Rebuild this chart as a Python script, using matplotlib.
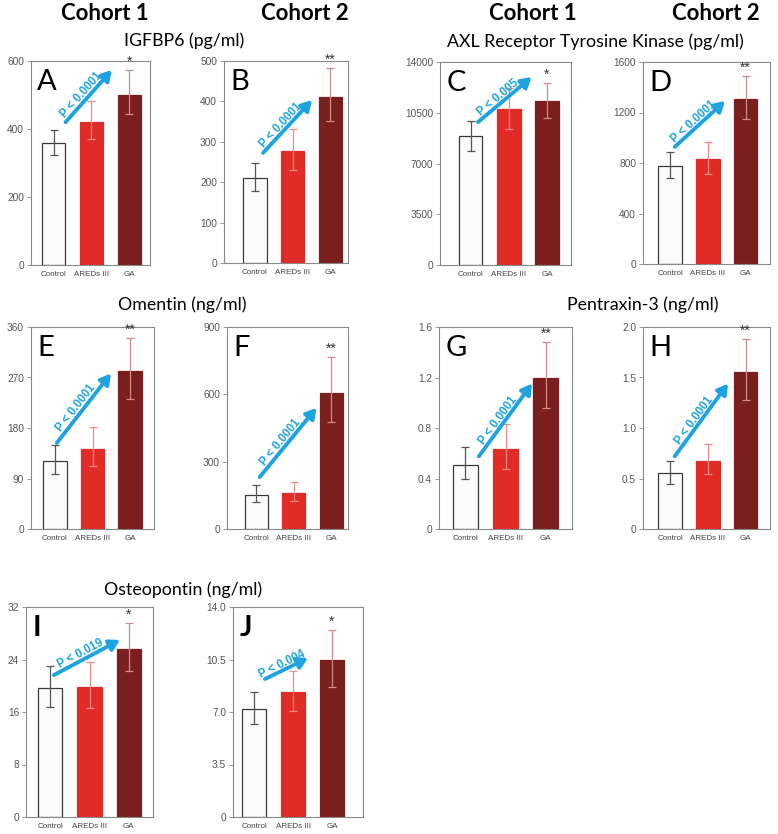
import math
import matplotlib
matplotlib.use("Agg")
import matplotlib.pyplot as plt

groups = ["Control", "AREDs III", "GA"]

# panel data: means, lower error end, upper error end
A_mean = [358, 420, 501];   A_lo = [325, 372, 443];   A_hi = [398, 483, 574]
B_mean = [211, 277, 412];   B_lo = [178, 231, 351];   B_hi = [248, 331, 483]
C_mean = [8865, 10776, 11283]; C_lo = [7829, 9394, 10131]; C_hi = [9947, 12204, 12549]
D_mean = [780, 830, 1309];  D_lo = [680, 711, 1148];  D_hi = [891, 965, 1489]
E_mean = [120.6, 142.6, 281.6]; E_lo = [98, 112, 232]; E_hi = [149, 182, 340]
F_mean = [151, 162, 604];   F_lo = [119, 125, 478];   F_hi = [195, 211, 766]
G_mean = [0.506, 0.630, 1.195]; G_lo = [0.397, 0.479, 0.959]; G_hi = [0.646, 0.829, 1.481]
H_mean = [0.55, 0.672, 1.55]; H_lo = [0.450, 0.540, 1.275]; H_hi = [0.669, 0.841, 1.881]
I_mean = [19.66, 19.8, 25.65]; I_lo = [16.76, 16.56, 22.2]; I_hi = [23.0, 23.6, 29.6]
J_mean = [7.21, 8.35, 10.49]; J_lo = [6.18, 7.06, 8.64]; J_hi = [8.35, 9.71, 12.5]

A_ticks = [0, 200, 400, 600];          A_ticklabels = ["0", "200", "400", "600"]
B_ticks = [0, 100, 200, 300, 400, 500]; B_ticklabels = ["0", "100", "200", "300", "400", "500"]
C_ticks = [0, 3500, 7000, 10500, 14000]; C_ticklabels = ["0", "3500", "7000", "10500", "14000"]
D_ticks = [0, 400, 800, 1200, 1600];   D_ticklabels = ["0", "400", "800", "1200", "1600"]
E_ticks = [0, 90, 180, 270, 360];      E_ticklabels = ["0", "90", "180", "270", "360"]
F_ticks = [0, 300, 600, 900];          F_ticklabels = ["0", "300", "600", "900"]
G_ticks = [0, 0.4, 0.8, 1.2, 1.6];     G_ticklabels = ["0", "0.4", "0.8", "1.2", "1.6"]
H_ticks = [0, 0.5, 1.0, 1.5, 2.0];     H_ticklabels = ["0", "0.5", "1.0", "1.5", "2.0"]
I_ticks = [0, 8, 16, 24, 32];          I_ticklabels = ["0", "8", "16", "24", "32"]
J_ticks = [0, 3.5, 7.0, 10.5, 14.0];   J_ticklabels = ["0", "3.5", "7.0", "10.5", "14.0"]

stars = {"A": "*", "B": "**", "C": "*", "D": "**", "E": "**", "F": "**",
         "G": "**", "H": "**", "I": "*", "J": "*"}
pvals = {"A": "P < 0.0001", "B": "P < 0.0001", "C": "P < 0.005", "D": "P < 0.0001",
         "E": "P < 0.0001", "F": "P < 0.0001", "G": "P < 0.0001", "H": "P < 0.0001",
         "I": "P < 0.019", "J": "P < 0.004"}

panels = {
    "A": (A_mean, A_lo, A_hi, A_ticks, A_ticklabels),
    "B": (B_mean, B_lo, B_hi, B_ticks, B_ticklabels),
    "C": (C_mean, C_lo, C_hi, C_ticks, C_ticklabels),
    "D": (D_mean, D_lo, D_hi, D_ticks, D_ticklabels),
    "E": (E_mean, E_lo, E_hi, E_ticks, E_ticklabels),
    "F": (F_mean, F_lo, F_hi, F_ticks, F_ticklabels),
    "G": (G_mean, G_lo, G_hi, G_ticks, G_ticklabels),
    "H": (H_mean, H_lo, H_hi, H_ticks, H_ticklabels),
    "I": (I_mean, I_lo, I_hi, I_ticks, I_ticklabels),
    "J": (J_mean, J_lo, J_hi, J_ticks, J_ticklabels),
}

# ---------------- layout (pixels) ----------------
W, H = 778, 834
boxes = {  # left, top, right, bottom
    "A": (31, 61, 150, 265), "B": (224, 61, 348, 263),
    "C": (440, 62, 571, 265), "D": (643, 62, 770, 264),
    "E": (31, 327, 154, 529), "F": (227, 327, 348, 529),
    "G": (439, 327, 572, 529), "H": (643, 327, 770, 529),
    "I": (26, 607, 153, 817), "J": (233, 607, 363, 817),
}
xlims = {
    "A": (-0.6, 2.55), "B": (-0.82, 2.47), "C": (-0.8, 2.63), "D": (-0.72, 2.65),
    "E": (-0.64, 2.64), "F": (-0.78, 2.45), "G": (-0.65, 2.65), "H": (-0.72, 2.65),
    "I": (-0.62, 2.62), "J": (-0.55, 2.8),
}
arrows = {  # start, end in axes fraction
    "A": ((0.29, 0.70), (0.68, 0.956)),
    "B": ((0.315, 0.545), (0.71, 0.807)),
    "C": ((0.29, 0.704), (0.70, 0.926)),
    "D": ((0.25, 0.58), (0.646, 0.807)),
    "E": ((0.21, 0.426), (0.65, 0.77)),
    "F": ((0.27, 0.257), (0.74, 0.60)),
    "G": ((0.30, 0.36), (0.70, 0.72)),
    "H": ((0.25, 0.36), (0.67, 0.72)),
    "I": ((0.22, 0.676), (0.74, 0.843)),
    "J": ((0.246, 0.657), (0.577, 0.757)),
}

bar_colors = ["#fbfbfb", "#e02b26", "#7b1f1e"]
edge_colors = ["#3a3a3a", "#e02b26", "#7b1f1e"]
err_colors = ["#555555", "#f08a84", "#cf8c8c"]
arrow_color = "#1ea3e0"
tick_gray = "#555555"
spine_gray = "#888888"

fig = plt.figure(figsize=(W / 100, H / 100), dpi=100)

for key, (mean, lo, hi, ticks, ticklabels) in panels.items():
    l, t, r, b = boxes[key]
    ax = fig.add_axes([l / W, 1 - b / H, (r - l) / W, (b - t) / H])
    x = list(range(len(groups)))
    ax.bar(x, mean, width=0.62, color=bar_colors, edgecolor=edge_colors, linewidth=0.9, zorder=2)
    for i in x:
        ax.errorbar(i, mean[i], yerr=[[mean[i] - lo[i]], [hi[i] - mean[i]]],
                    fmt="none", ecolor=err_colors[i], elinewidth=0.9, capsize=3, capthick=0.9, zorder=3)
    ymax = ticks[-1]
    ax.set_ylim(0, ymax)
    ax.set_xlim(*xlims[key])
    ax.set_yticks(ticks)
    ax.set_yticklabels(ticklabels, fontsize=7.3, color=tick_gray, family="Liberation Sans")
    ax.set_xticks(x)
    ax.set_xticklabels(groups, fontsize=5.8, color="#444444", family="Liberation Sans")
    ax.tick_params(axis="y", direction="out", length=3, width=0.6, color=spine_gray, pad=2)
    ax.tick_params(axis="x", length=0, pad=4)
    for s in ax.spines.values():
        s.set_color(spine_gray)
        s.set_linewidth(0.8)
    # significance stars
    ax.text(2, hi[2] + ymax * 0.005, stars[key], ha="center", va="bottom",
            fontsize=10, color="#333333", family="Liberation Sans")
    # panel letter
    bold = "bold" if key in ("I", "J") else "normal"
    ax.text(0.05, 0.96, key, transform=ax.transAxes, ha="left", va="top",
            fontsize=21, family="Lato", fontweight=bold, color="black")
    # arrow
    (x0, y0), (x1, y1) = arrows[key]
    ax.annotate("", xy=(x1, y1), xytext=(x0, y0), xycoords="axes fraction",
                arrowprops=dict(arrowstyle="-|>,head_length=0.6,head_width=0.35",
                                color=arrow_color, lw=2.8, shrinkA=0, shrinkB=0),
                zorder=5)
    pw = (r - l) * (x1 - x0)
    ph = (b - t) * (y1 - y0)
    ang = math.degrees(math.atan2(ph, pw))
    xm = x0 + 0.45 * (x1 - x0)
    ym = y0 + 0.45 * (y1 - y0)
    ax.text(xm, ym, pvals[key], transform=ax.transAxes, rotation=ang, rotation_mode="anchor",
            ha="center", va="bottom", fontsize=8.3, fontweight="bold", color=arrow_color,
            family="Liberation Sans", zorder=6)

# cohort headers
for cx, lab in [(105, "Cohort 1"), (305, "Cohort 2"), (533, "Cohort 1"), (716, "Cohort 2")]:
    fig.text(cx / W, 1 - 13 / H, lab, ha="center", va="center", fontsize=16,
             fontweight="bold", family="Lato")

# protein titles
for cx, cy, lab in [(184, 41, "IGFBP6 (pg/ml)"), (595, 42, "AXL Receptor Tyrosine Kinase (pg/ml)"),
                    (182, 305, "Omentin (ng/ml)"), (643, 305, "Pentraxin-3 (ng/ml)"),
                    (183, 590, "Osteopontin (ng/ml)")]:
    fig.text(cx / W, 1 - cy / H, lab, ha="center", va="center", fontsize=12.8, family="Lato")

fig.savefig("out.png", dpi=100)
